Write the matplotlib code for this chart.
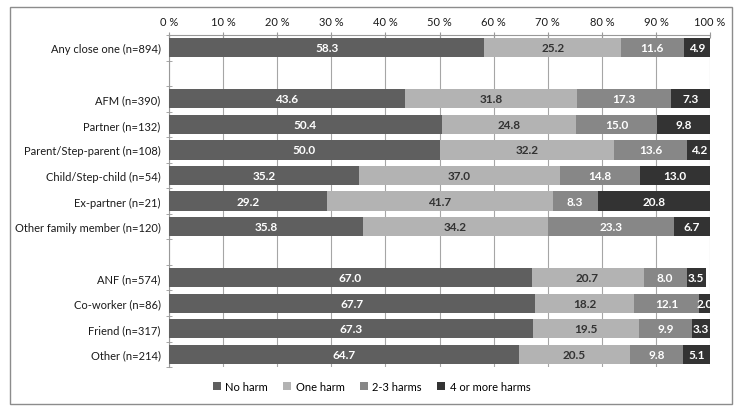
import numpy as np
import matplotlib
matplotlib.use("Agg")
import matplotlib.pyplot as plt
from matplotlib.patches import Rectangle
from matplotlib.ticker import MultipleLocator, FuncFormatter

plt.rcParams["font.family"] = ["Lato", "DejaVu Sans"]

# rows top to bottom, "" = spacer row
groups = ["Any close one (n=894)", "",
          "AFM (n=390)", "Partner (n=132)", "Parent/Step-parent (n=108)",
          "Child/Step-child (n=54)", "Ex-partner (n=21)", "Other family member (n=120)", "",
          "ANF (n=574)", "Co-worker (n=86)", "Friend (n=317)", "Other (n=214)"]
no_harm   = [58.3, None, 43.6, 50.4, 50.0, 35.2, 29.2, 35.8, None, 67.0, 67.7, 67.3, 64.7]
one_harm  = [25.2, None, 31.8, 24.8, 32.2, 37.0, 41.7, 34.2, None, 20.7, 18.2, 19.5, 20.5]
two_three = [11.6, None, 17.3, 15.0, 13.6, 14.8, 8.3, 23.3, None, 8.0, 12.1, 9.9, 9.8]
four_plus = [4.9, None, 7.3, 9.8, 4.2, 13.0, 20.8, 6.7, None, 3.5, 2.0, 3.3, 5.1]

series = [("No harm", no_harm, "#5f5f5f", "white"),
          ("One harm", one_harm, "#b3b3b3", "#333333"),
          ("2-3 harms", two_three, "#878787", "white"),
          ("4 or more harms", four_plus, "#333333", "white")]

fig = plt.figure(figsize=(7.43, 4.14), dpi=100)
ax = fig.add_axes([0.2275, 0.111, 0.7282, 0.802])

y = np.arange(len(groups))
left = np.zeros(len(groups))
for name, vals, col, tcol in series:
    v = np.array([np.nan if x is None else x for x in vals])
    ax.barh(y, np.nan_to_num(v), left=left, height=0.75, color=col, label=name, zorder=3)
    for yi, (l, w) in enumerate(zip(left, v)):
        if not np.isnan(w):
            ax.text(l + w / 2, yi, f"{w:.1f}", ha="center", va="center",
                    color=tcol, fontsize=8.5, fontweight="bold", zorder=4)
    left = left + np.nan_to_num(v)

ax.set_xlim(0, 100)
ax.set_ylim(len(groups) - 0.5, -0.5)
ax.xaxis.tick_top()
ax.xaxis.set_major_locator(MultipleLocator(10))
ax.xaxis.set_major_formatter(FuncFormatter(lambda v, p: f"{int(v)} %"))
ax.set_yticks(y)
ax.set_yticklabels(groups)
ax.set_yticks(np.arange(-0.5, len(groups), 1), minor=True)
ax.tick_params(axis="y", which="major", length=0, labelsize=8, colors="#1a1a1a", pad=6)
ax.tick_params(axis="y", which="minor", length=4, direction="inout", color="#999999")
ax.tick_params(axis="x", length=4, direction="inout", color="#999999",
               labelsize=8, labelcolor="#1a1a1a", pad=4)
ax.grid(True, axis="x", color="#a6a6a6", linewidth=0.8, zorder=0)
for s in ["right", "bottom"]:
    ax.spines[s].set_visible(False)
for s in ["top", "left"]:
    ax.spines[s].set_color("#999999")

h, l = ax.get_legend_handles_labels()
fig.legend(h, l, loc="center", bbox_to_anchor=(0.5, 0.065), ncol=4, frameon=False,
           fontsize=8, handlelength=0.7, handleheight=0.7, handletextpad=0.4,
           columnspacing=1.4)

fig.patches.append(Rectangle((10 / 743, 1 - 405 / 414), 722 / 743, 397 / 414,
                             transform=fig.transFigure, fill=False,
                             edgecolor="#8c8c8c", linewidth=1))

fig.savefig("out.png", dpi=100)
